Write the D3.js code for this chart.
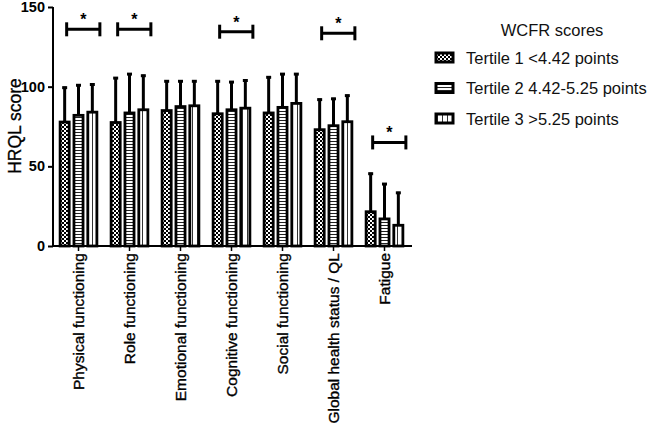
<!DOCTYPE html>
<html><head><meta charset="utf-8">
<script src="https://cdn.jsdelivr.net/npm/d3@7"></script>
<style>body{margin:0;background:#fff}svg{display:block;font-family:"Liberation Sans",Arial,sans-serif}</style>
</head><body>
<svg id="c" width="649" height="428"></svg>
<script>
const categories = ["Physical functioning","Role functioning","Emotional functioning","Cognitive functioning","Social functioning","Global health status / QL","Fatigue"];
const seriesNames = ["Tertile 1 <4.42 points","Tertile 2 4.42-5.25 points","Tertile 3 >5.25 points"];
const tertile1 = [77.8, 77.5, 85, 83, 83.5, 73, 21.5];
const tertile2 = [82, 83.5, 87.5, 85.5, 87, 75.5, 17];
const tertile3 = [84, 85.5, 88, 86.5, 89.5, 78, 13];
const tertile1Err = [100, 106, 104, 104, 106.5, 92.5, 46];
const tertile2Err = [101.5, 108.5, 104, 103.5, 108.5, 93, 39.5];
const tertile3Err = [102, 107.5, 104, 104.5, 108.5, 95, 34];
const sigCategories = ["Physical functioning","Role functioning","Cognitive functioning","Global health status / QL","Fatigue"];
const sigLevels = [136, 136, 134.5, 133.5, 65];
const yTicks = [0, 50, 100, 150];
const legendTitle = "WCFR scores";
const yTitle = "HRQL score";

const svg = d3.select("#c");
const defs = svg.append("defs");
const p1 = defs.append("pattern").attr("id","p0").attr("patternUnits","userSpaceOnUse").attr("width",4).attr("height",4);
p1.append("rect").attr("width",4).attr("height",4).attr("fill","#fff");
p1.append("rect").attr("width",2).attr("height",2).attr("fill","#000");
p1.append("rect").attr("x",2).attr("y",2).attr("width",2).attr("height",2).attr("fill","#000");
const p2 = defs.append("pattern").attr("id","p1").attr("patternUnits","userSpaceOnUse").attr("width",4).attr("height",3);
p2.append("rect").attr("width",4).attr("height",3).attr("fill","#fff");
p2.append("rect").attr("width",4).attr("height",1).attr("fill","#222");
const p3 = defs.append("pattern").attr("id","p2").attr("patternUnits","userSpaceOnUse").attr("width",5).attr("height",4);
p3.append("rect").attr("width",5).attr("height",4).attr("fill","#fff");
p3.append("rect").attr("x",2).attr("width",1).attr("height",4).attr("fill","#333");

const x0 = d3.scaleBand().domain(categories).range([53,410]).paddingInner(0.24).paddingOuter(0.12);
const x1 = d3.scaleBand().domain([0,1,2]).range([0,x0.bandwidth()]).paddingInner(0.2);
const y = d3.scaleLinear().domain([0,150]).range([246,7]);

const vals = [tertile1, tertile2, tertile3];
const errs = [tertile1Err, tertile2Err, tertile3Err];

const g = svg.append("g");
categories.forEach((c,i)=>{
  [0,1,2].forEach(s=>{
    const cx = x0(c)+x1(s)+x1.bandwidth()/2;
    g.append("line").attr("x1",cx).attr("x2",cx).attr("y1",y(vals[s][i])).attr("y2",y(errs[s][i]))
      .attr("stroke","#000").attr("stroke-width",3);
    g.append("line").attr("x1",cx-2.5).attr("x2",cx+2.5).attr("y1",y(errs[s][i])+1).attr("y2",y(errs[s][i])+1)
      .attr("stroke","#000").attr("stroke-width",3);
    g.append("rect").attr("x",x0(c)+x1(s)+1).attr("y",y(vals[s][i]))
      .attr("width",x1.bandwidth()-2).attr("height",y(0)-y(vals[s][i]))
      .attr("fill",`url(#p${s})`).attr("stroke","#000").attr("stroke-width",2.8);
  });
});

const yAxis = svg.append("g").attr("transform","translate(53,0)")
  .call(d3.axisLeft(y).tickValues(yTicks).tickSize(5).tickSizeOuter(0));
yAxis.selectAll("path,line").attr("stroke","#000").attr("stroke-width",2);
yAxis.selectAll("text").attr("font-size",14.5).attr("font-weight","bold").attr("fill","#000").attr("font-family","Liberation Sans, Arial");
yAxis.select("path").attr("d","M0,247V7");

const xAxis = svg.append("g").attr("transform","translate(0,246)")
  .call(d3.axisBottom(x0).tickSize(5).tickSizeOuter(0));
xAxis.select("path").attr("d","M53,0H412").attr("stroke","#000").attr("stroke-width",2);
xAxis.selectAll("line").attr("stroke","#000").attr("stroke-width",1.5);
xAxis.selectAll("text").attr("font-size",15.5).attr("fill","#000").attr("font-family","Liberation Sans, Arial")
  .attr("transform","rotate(-90)").attr("text-anchor","end").attr("x",-7).attr("y",0).attr("dy","0.35em")
  .attr("stroke","#000").attr("stroke-width",0.35);

svg.append("text").attr("transform","translate(15,126) rotate(-90)").attr("text-anchor","middle")
  .attr("dy","0.35em").attr("font-size",17.5).attr("fill","#000").attr("stroke","#000").attr("stroke-width",0.3).text(yTitle);

sigCategories.forEach((c,i)=>{
  const xl = x0(c)+x1(0)+x1.bandwidth()/2+2;
  const xr = x0(c)+x1(2)+x1.bandwidth()+2;
  const yy = y(sigLevels[i]);
  svg.append("line").attr("x1",xl).attr("x2",xr).attr("y1",yy).attr("y2",yy).attr("stroke","#000").attr("stroke-width",3);
  svg.append("line").attr("x1",xl).attr("x2",xl).attr("y1",yy-7).attr("y2",yy+7).attr("stroke","#000").attr("stroke-width",3);
  svg.append("line").attr("x1",xr).attr("x2",xr).attr("y1",yy-7).attr("y2",yy+7).attr("stroke","#000").attr("stroke-width",3);
  svg.append("text").attr("x",(xl+xr)/2).attr("y",yy-4).attr("text-anchor","middle")
    .attr("font-size",16).attr("font-weight","bold").attr("fill","#000").text("*");
});

svg.append("text").attr("x",552).attr("y",36).attr("text-anchor","middle").attr("font-size",16.5).attr("fill","#111").text(legendTitle);
seriesNames.forEach((n,i)=>{
  const ly = 58 + i*30.5;
  svg.append("rect").attr("x",436).attr("y",ly-5).attr("width",17).attr("height",9)
    .attr("fill",`url(#p${i})`).attr("stroke","#000").attr("stroke-width",3);
  svg.append("text").attr("x",466).attr("y",ly+5.5).attr("font-size",16.5).attr("fill","#111").text(n);
});
</script>
</body></html>
